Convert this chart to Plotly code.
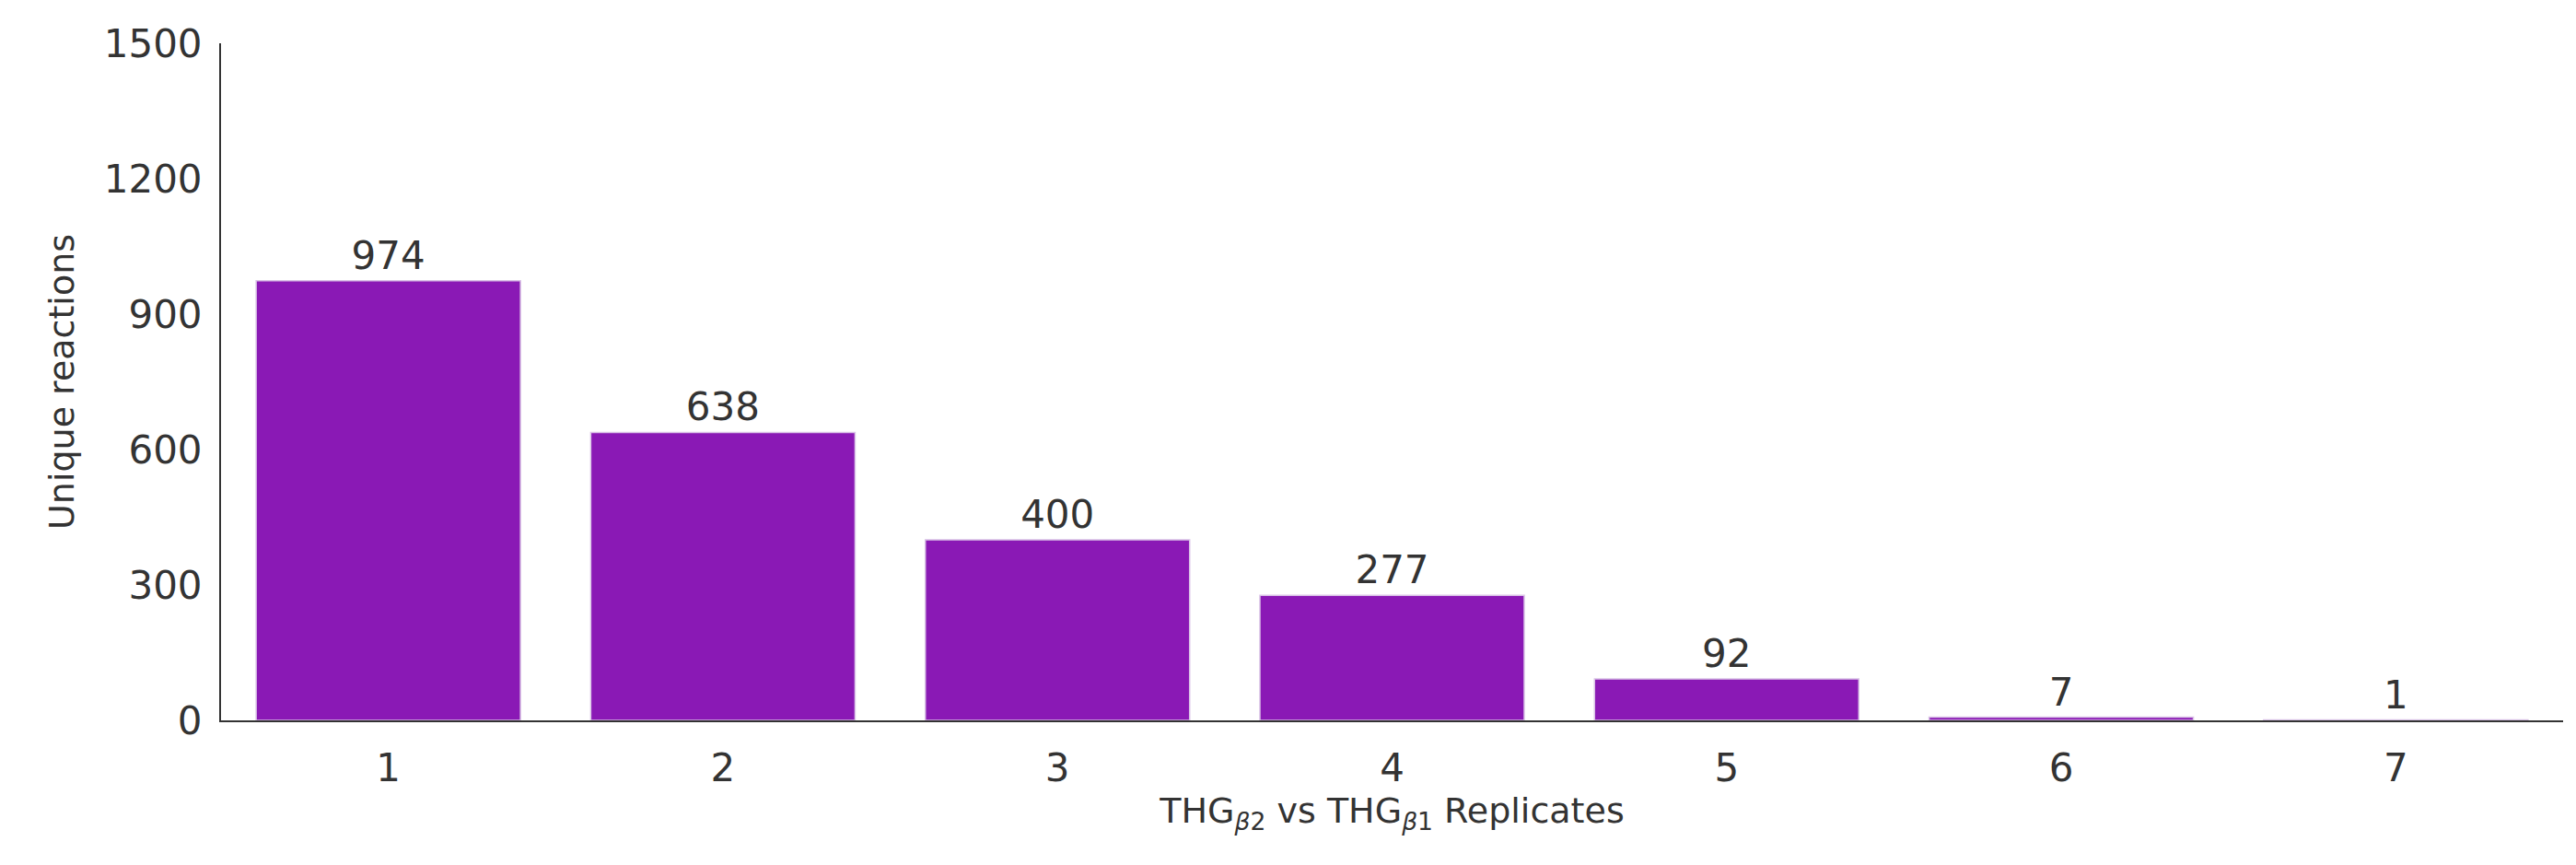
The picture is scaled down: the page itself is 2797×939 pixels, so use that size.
import plotly.graph_objects as go

replicates = [1, 2, 3, 4, 5, 6, 7]
unique_reactions = [974, 638, 400, 277, 92, 7, 1]
tick_values = [0, 300, 600, 900, 1200, 1500]

fig = go.Figure(go.Bar(
    x=replicates,
    y=unique_reactions,
    text=[str(v) for v in unique_reactions],
    textposition="outside",
    textfont=dict(size=42, color="#333333"),
    marker=dict(color="#8a19b5", line=dict(color="#d9c2e6", width=1.5)),
    cliponaxis=False,
))

fig.update_layout(
    width=2797, height=939,
    margin=dict(l=232, r=22, t=39, b=165),
    plot_bgcolor="white", paper_bgcolor="white",
    font=dict(family="DejaVu Sans", size=42, color="#333333"),
    bargap=0.21,
    showlegend=False,
)
fig.update_xaxes(
    range=[0.5, 7.5], tickvals=replicates, showgrid=False,
    ticks="outside", ticklen=14, tickcolor="white",
    showline=True, linecolor="#333333", linewidth=2,
    title=dict(text="THG<sub><i>β</i>2</sub> vs THG<sub><i>β</i>1</sub> Replicates", font=dict(size=38), standoff=6),
)
fig.update_yaxes(
    range=[0, 1500], tickvals=tick_values, showgrid=False,
    ticks="outside", ticklen=10, tickcolor="white", zeroline=False,
    showline=True, linecolor="#333333", linewidth=2,
    title=dict(text="Unique reactions", font=dict(size=38), standoff=20),
)

fig.write_html("out.html")
